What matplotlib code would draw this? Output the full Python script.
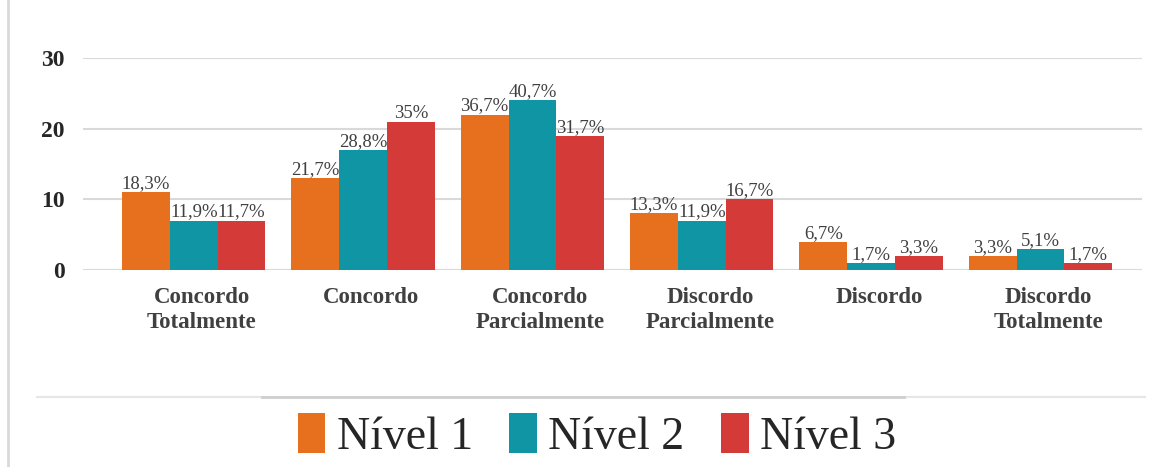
import matplotlib
matplotlib.use("Agg")
import matplotlib.pyplot as plt
import numpy as np
from matplotlib.lines import Line2D
from matplotlib.patches import Patch
from matplotlib.transforms import ScaledTranslation

plt.rcParams['font.family'] = ['Liberation Serif', 'DejaVu Serif']

categories = ["Concordo\nTotalmente", "Concordo", "Concordo\nParcialmente",
              "Discordo\nParcialmente", "Discordo", "Discordo\nTotalmente"]
series_names = ["Nível 1", "Nível 2", "Nível 3"]
nivel1 = [11, 13, 22, 8, 4, 2]
nivel2 = [7, 17, 24, 7, 1, 3]
nivel3 = [7, 21, 19, 10, 2, 1]
labels1 = ["18,3%", "21,7%", "36,7%", "13,3%", "6,7%", "3,3%"]
labels2 = ["11,9%", "28,8%", "40,7%", "11,9%", "1,7%", "5,1%"]
labels3 = ["11,7%", "35%", "31,7%", "16,7%", "3,3%", "1,7%"]
yticks = [0, 10, 20, 30]

colors = ["#E6701E", "#1095A5", "#D43A37"]

fig = plt.figure(figsize=(11.7, 4.67), dpi=100)
ax = fig.add_axes([83 / 1170, 1 - 270 / 467, (1142 - 83) / 1170, (270 - 58) / 467])

x = np.arange(len(categories))
w = 0.282
for i, (vals, labs) in enumerate(zip([nivel1, nivel2, nivel3], [labels1, labels2, labels3])):
    bars = ax.bar(x + (i - 1) * w, vals, w, color=colors[i], zorder=3)
    for b, lab in zip(bars, labs):
        ax.annotate(lab, (b.get_x() + b.get_width() / 2, b.get_height()),
                    xytext=(0, 0), textcoords="offset points",
                    ha="center", va="bottom", fontsize=13.5, color="#404040")

ax.set_xlim(-0.654, 5.60)
ax.set_ylim(0, 30)
ax.set_yticks(yticks)
ax.yaxis.grid(True, color="#d9d9d9", linewidth=1.5, zorder=0)
ax.set_axisbelow(True)
for s in ax.spines.values():
    s.set_visible(False)
ax.tick_params(axis="y", length=0, pad=13, labelsize=17, labelcolor="#262626")
ax.tick_params(axis="x", length=0, pad=12, labelsize=16.5, labelcolor="#404040")
for t in ax.get_yticklabels():
    t.set_fontweight("bold")
ax.set_xticks(x)
ax.set_xticklabels(categories, fontweight="bold", linespacing=1.3)
for t in ax.get_xticklabels():
    t.set_transform(t.get_transform() + ScaledTranslation(8 / 100, 0, fig.dpi_scale_trans))

# frame lines from the original screenshot
fig.add_artist(Line2D([8 / 1170, 8 / 1170], [0, 1], color="#d9d9d9", linewidth=2))
fig.add_artist(Line2D([37 / 1170, 1145 / 1170], [1 - 397 / 467] * 2, color="#e6e6e6", linewidth=1.5))
fig.add_artist(Line2D([262 / 1170, 904 / 1170], [1 - 397 / 467] * 2, color="#cfcfcf", linewidth=2))

handles = [Patch(facecolor=c) for c in colors]
fig.legend(handles, series_names, loc="center", bbox_to_anchor=(597 / 1170, 1 - 436 / 467),
           ncol=3, frameon=False, fontsize=33, handlelength=0.6, handleheight=0.95,
           handletextpad=0.25, columnspacing=0.8, labelcolor="#262626")

fig.savefig("out.png", dpi=100, facecolor="white")
